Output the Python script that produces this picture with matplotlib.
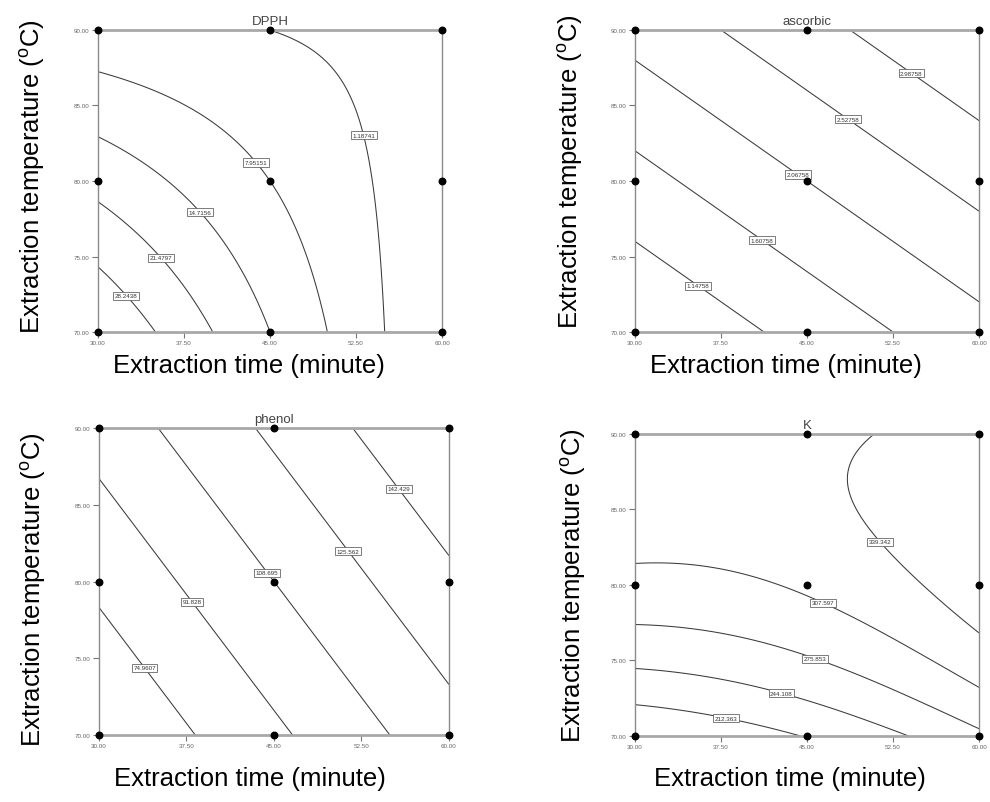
import numpy as np
import matplotlib
matplotlib.use("Agg")
import matplotlib.pyplot as plt
from matplotlib import font_manager

# -----------------------
# Data (coded factors: A = (time-45)/15, B = (temp-80)/10)
# -----------------------
design_time = [30, 45, 60, 30, 45, 60, 30, 45, 60]
design_temp = [70, 70, 70, 80, 80, 80, 90, 90, 90]

# model terms: b0, A, B, A^2, B^2, AB, A^2B^2
dpph_coef = [7.95, -11.37, -6.77, 0.0, 0.0, 8.93, 0.0]
ascorbic_coef = [2.06758, 0.6133, 0.7667, 0.0, 0.0, 0.0, 0.0]
phenol_coef = [108.695, 30.34, 20.09, 0.0, 0.0, 0.0, 0.0]
k_coef = [312.0, 29.9, 58.8, 15.95, -39.2, -14.48, -4.74]

dpph_levels = [1.18741, 7.95151, 14.7156, 21.4797, 28.2438]
ascorbic_levels = [1.14758, 1.60758, 2.06758, 2.52758, 2.98758]
phenol_levels = [74.9607, 91.828, 108.695, 125.562, 142.429]
k_levels = [212.363, 244.108, 275.853, 307.597, 339.342]

dpph_label_pos = [(53.3, 83.05), (43.9, 81.3), (39.0, 78.0), (35.6, 75.0), (32.6, 72.5)]
ascorbic_label_pos = [(35.6, 73.2), (41.2, 76.2), (44.2, 80.45), (48.75, 84.3), (54.3, 87.35)]
phenol_label_pos = [(34.1, 74.5), (38.2, 78.8), (44.45, 80.6), (51.5, 82.05), (55.8, 86.1)]
k_label_pos = [(38.0, 71.5), (42.9, 73.2), (45.8, 75.3), (46.5, 79.0), (51.4, 82.9)]

titles = ["DPPH", "ascorbic", "phenol", "K"]

# -----------------------
# Fonts
# -----------------------
installed = {f.name for f in font_manager.fontManager.ttflist}
if "Liberation Sans Narrow" in installed:
    big_font, big_size = "Liberation Sans Narrow", 22.5
else:
    big_font, big_size = "Liberation Sans", 18.5
plt.rcParams["font.family"] = ["Liberation Sans", "DejaVu Sans"]
plt.rcParams["mathtext.fontset"] = "custom"
plt.rcParams["mathtext.rm"] = big_font


def surface(coef, t, T):
    A = (t - 45.0) / 15.0
    B = (T - 80.0) / 10.0
    b0, b1, b2, b11, b22, b12, b1122 = coef
    return (b0 + b1 * A + b2 * B + b11 * A ** 2 + b22 * B ** 2
            + b12 * A * B + b1122 * A ** 2 * B ** 2)


fig = plt.figure(figsize=(9.9, 8.03), dpi=100)

# axes rectangles in figure fraction
rects = [
    [0.0990, 0.5853, 0.3475, 0.3761],
    [0.6414, 0.5853, 0.3475, 0.3761],
    [0.1000, 0.0834, 0.3535, 0.3823],
    [0.6414, 0.0822, 0.3475, 0.3761],
]
panels = [
    (dpph_coef, dpph_levels, dpph_label_pos),
    (ascorbic_coef, ascorbic_levels, ascorbic_label_pos),
    (phenol_coef, phenol_levels, phenol_label_pos),
    (k_coef, k_levels, k_label_pos),
]
xlabel_pos = [(0.44, -0.11), (0.44, -0.11), (0.43, -0.14), (0.45, -0.139)]
ylabel_pos = [(-0.192, 0.517), (-0.189, 0.535), (-0.189, 0.476), (-0.179, 0.50)]

t = np.linspace(30, 60, 301)
T = np.linspace(70, 90, 301)
tt, TT = np.meshgrid(t, T)

for i, (coef, levels, lpos) in enumerate(panels):
    ax = fig.add_axes(rects[i])
    zz = surface(coef, tt, TT)
    cs = ax.contour(tt, TT, zz, levels=levels, colors="#3a3a3a", linewidths=0.75)
    fmt = {lv: ("%.6g" % lv) for lv in levels}
    labels = ax.clabel(cs, levels=levels, fmt=fmt, inline=False, fontsize=4.5,
                       manual=lpos, colors="#333333")
    for lab in labels:
        lab.set_bbox(dict(boxstyle="square,pad=0.25", facecolor="white",
                          edgecolor="#666666", linewidth=0.6))
        lab.set_rotation(0)

    ax.scatter(design_time, design_temp, s=22, color="black", zorder=5, clip_on=False)

    ax.set_xlim(30, 60)
    ax.set_ylim(70, 90)
    ax.set_xticks([30, 37.5, 45, 52.5, 60])
    ax.set_yticks([70, 75, 80, 85, 90])
    ax.xaxis.set_major_formatter(matplotlib.ticker.FormatStrFormatter("%.2f"))
    ax.yaxis.set_major_formatter(matplotlib.ticker.FormatStrFormatter("%.2f"))
    ax.tick_params(labelsize=4.5, labelcolor="#666666", color="#777777",
                   length=4, width=0.8, pad=2)
    for side in ["left", "right"]:
        ax.spines[side].set_color("#8a8a8a")
        ax.spines[side].set_linewidth(1.0)
    for side in ["top", "bottom"]:
        ax.spines[side].set_color("#a8a8a8")
        ax.spines[side].set_linewidth(2.0)

    ax.set_title(titles[i], fontsize=9.5, color="#444444", pad=4)

    ax.text(xlabel_pos[i][0], xlabel_pos[i][1], "Extraction time (minute)",
            transform=ax.transAxes, ha="center", va="center",
            fontsize=big_size, family=big_font, color="black")
    ax.text(ylabel_pos[i][0], ylabel_pos[i][1],
            r"Extraction temperature ($^{\mathregular{o}}$C)",
            transform=ax.transAxes, ha="center", va="center", rotation=90,
            fontsize=big_size, family=big_font, color="black")

fig.savefig("out.png", dpi=100)
